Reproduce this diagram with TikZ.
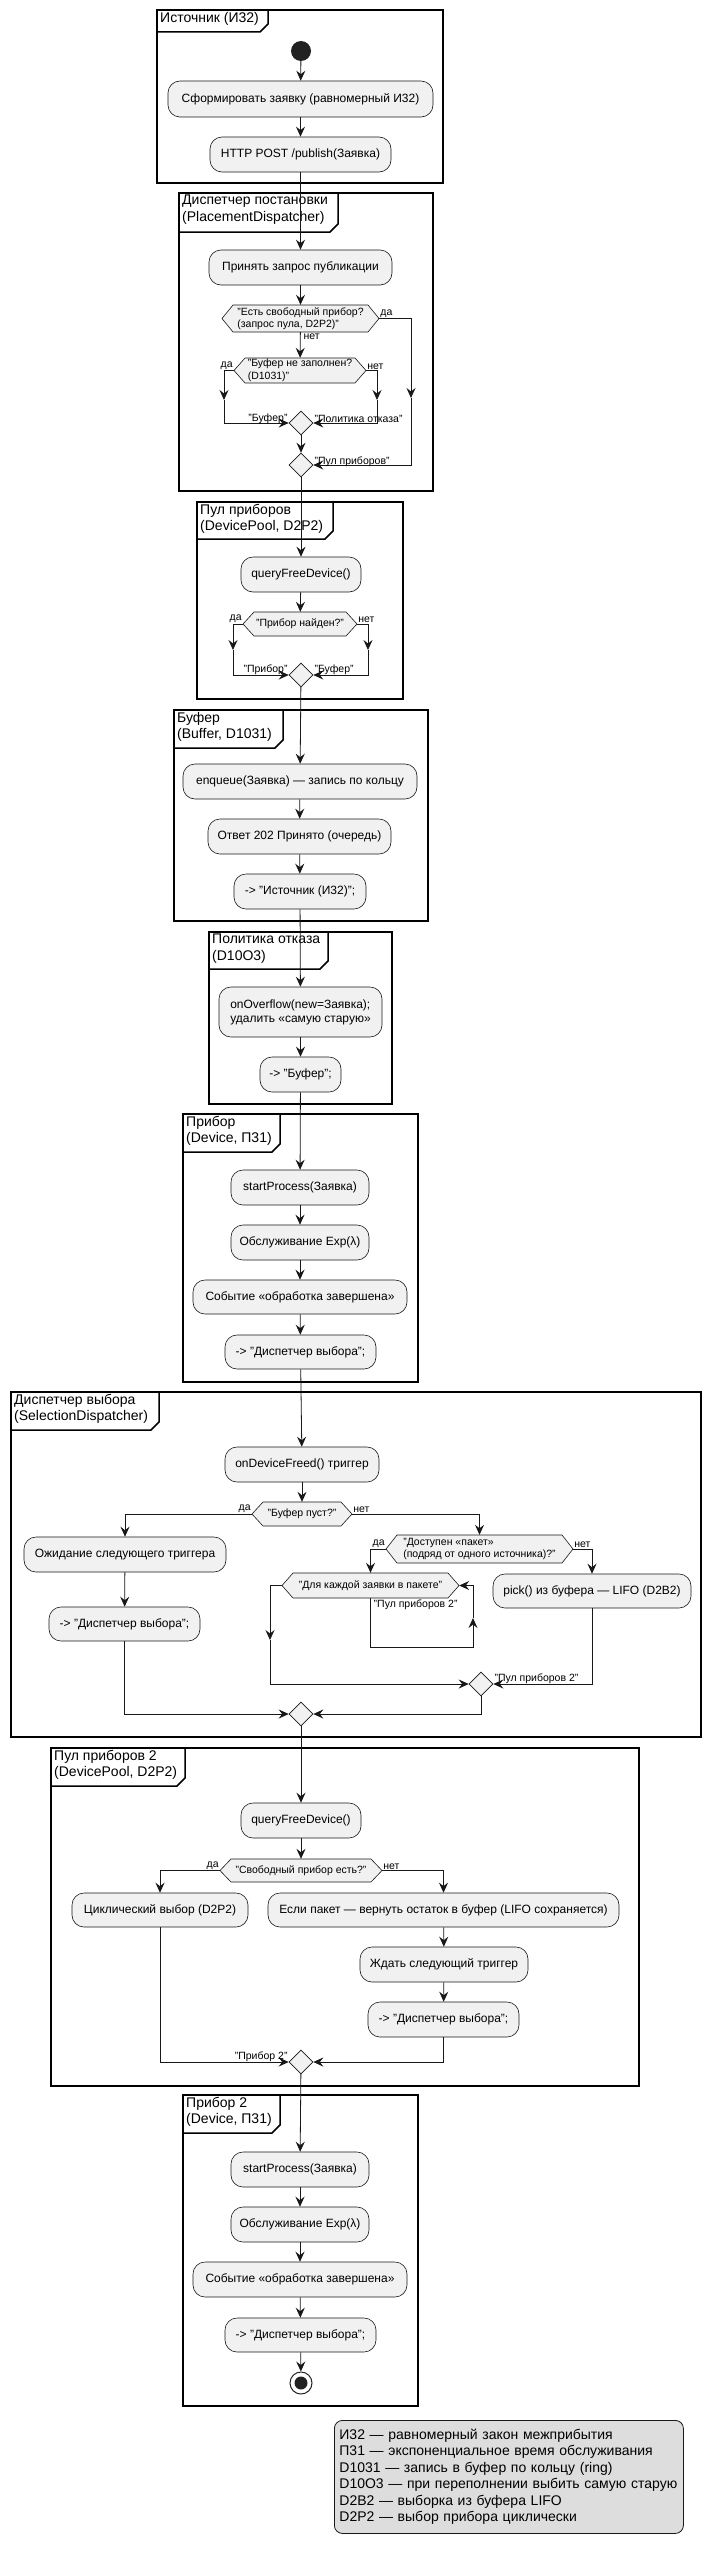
\documentclass[tikz,border=0pt]{standalone}
\usepackage{fontspec}
\setmainfont{Liberation Sans}
\usetikzlibrary{arrows.meta,shapes.geometric}
\definecolor{actfill}{HTML}{F1F1F1}
\definecolor{linec}{HTML}{181818}
\definecolor{startc}{HTML}{222222}
\definecolor{legfill}{HTML}{DDDDDD}
\tikzset{
  act/.style={draw=linec, fill=actfill, line width=0.6pt, rounded corners=12pt, inner sep=0pt, align=left, font=\fontsize{12}{14}\selectfont},
  hexst/.style={draw=linec, fill=actfill, line width=0.6pt},
  hexbox/.style={inner sep=0pt, align=left, font=\fontsize{10.5}{12.5}\selectfont},
  merge/.style={diamond, aspect=1, draw=linec, fill=actfill, line width=0.6pt, minimum width=24pt, minimum height=24pt, inner sep=0pt},
  frame/.style={draw=black, line width=1.5pt},
  ftitle/.style={inner sep=0pt, align=left, font=\fontsize{14}{16.5}\selectfont},
  lbl/.style={inner sep=1pt, font=\fontsize{10.5}{12.5}\selectfont},
  line/.style={draw=linec, line width=0.8pt},
  arr/.style={line, -{Stealth[length=10pt,width=9pt,inset=3.5pt]}},
  legend/.style={draw=linec, fill=legfill, line width=0.8pt, rounded corners=8pt, align=left, font=\fontsize{14}{16.5}\selectfont}
}
\newcommand\actn[6]{\node[act, minimum width={(#3-#2)*1pt}, minimum height={(#5-#4)*1pt}] (#1) at ({(#2+#3)/2},{(#4+#5)/2}) {#6};}
\newcommand\hexn[6]{%
  \path[hexst] (#2,{(#4+#5)/2}) -- ({#2+11},#4) -- ({#3-11},#4) -- (#3,{(#4+#5)/2}) -- ({#3-11},#5) -- ({#2+11},#5) -- cycle;
  \node[hexbox, minimum width={(#3-#2)*1pt}, minimum height={(#5-#4)*1pt}] (#1) at ({(#2+#3)/2},{(#4+#5)/2}) {#6};}
\newcommand\frm[8]{%
  \draw[frame] (#2,#3) rectangle (#4,#5);
  \draw[frame] (#2,#7) -- ({#6-8},#7) -- (#6,{#7-8}) -- (#6,#3);
  \node[ftitle, anchor=north west] (#1) at ({#2+3},{#3+2}) {#8};}
\begin{document}
\begin{tikzpicture}[x=1pt,y=-1pt]
\useasboundingbox (0,0) rectangle (708,2556);
\fill[white] (0,0) rectangle (708,2556);
% frames
\frm{fSrc}{157}{10}{443}{183}{268}{32}{Источник (И32)}
\frm{fPl}{179}{193}{433}{491}{338}{232}{Диспетчер постановки\\(PlacementDispatcher)}
\frm{fPool}{197}{502}{403}{699}{333}{539}{Пул приборов\\(DevicePool, D2P2)}
\frm{fBuf}{174}{710}{428}{921}{283}{748}{Буфер\\(Buffer, D1031)}
\frm{fPol}{209}{932}{392}{1104}{328}{969}{Политика отказа\\(D10O3)}
\frm{fDev}{183}{1114}{418}{1382}{280}{1152}{Прибор\\(Device, П31)}
\frm{fSel}{11}{1392}{701}{1737}{159}{1430}{Диспетчер выбора\\(SelectionDispatcher)}
\frm{fPool2}{51}{1748}{639}{2086}{185}{1786}{Пул приборов 2\\(DevicePool, D2P2)}
\frm{fDev2}{183}{2095}{418}{2406}{280}{2133}{Прибор 2\\(Device, П31)}
% source
\node[circle, fill=startc, minimum size=20pt, inner sep=0pt] (start) at (301,51) {};
\actn{a1}{168}{433}{81}{117}{Сформировать заявку (равномерный И32)}
\actn{a2}{210}{391}{137}{172}{HTTP POST /publish(Заявка)}
% placement
\actn{p1}{209}{392}{250}{285}{Принять запрос публикации}
\hexn{h1}{222}{379}{305}{332}{"Есть свободный прибор?\\(запрос пула, D2P2)"}
\hexn{h2}{234}{366}{358}{383}{"Буфер не заполнен?\\(D1031)"}
\node[merge] (m1) at (301,423) {};
\node[merge] (m2) at (301,465) {};
% pool
\actn{q1}{241}{361}{557}{592}{queryFreeDevice()}
\hexn{h3}{243}{357}{612}{636}{"Прибор найден?"}
\node[merge] (m3) at (301,675) {};
% buffer
\actn{b1}{183}{417}{764}{799}{enqueue(Заявка) — запись по кольцу}
\actn{b2}{208}{391}{819}{854}{Ответ 202 Принято (очередь)}
\actn{b3}{234}{366}{874}{909}{-> "Источник (И32)";}
% policy
\actn{o1}{219}{382}{987}{1037}{onOverflow(new=Заявка);\\удалить «самую старую»}
\actn{o2}{260}{341}{1057}{1092}{-> "Буфер";}
% device
\actn{d1}{231}{369}{1170}{1205}{startProcess(Заявка)}
\actn{d2}{231}{369}{1225}{1260}{Обслуживание Exp(λ)}
\actn{d3}{193}{407}{1280}{1314}{Событие «обработка завершена»}
\actn{d4}{225}{376}{1335}{1369}{-> "Диспетчер выбора";}
% selection
\actn{s1}{225}{379}{1447}{1482}{onDeviceFreed() триггер}
\hexn{h4}{252}{352}{1502}{1526}{"Буфер пуст?"}
\actn{s2}{24}{226}{1537}{1572}{Ожидание следующего триггера}
\actn{s3}{49}{200}{1607}{1641}{-> "Диспетчер выбора";}
\hexn{h5}{386}{573}{1535}{1563}{"Доступен «пакет»\\(подряд от одного источника)?"}
\hexn{h6}{282}{459}{1573}{1598}{"Для каждой заявки в пакете"}
\actn{s4}{493}{691}{1574}{1608}{pick() из буфера — LIFO (D2B2)}
\node[merge] (m4) at (481,1684) {};
\node[merge] (m5) at (301,1714) {};
% pool 2
\actn{q2}{241}{361}{1803}{1838}{queryFreeDevice()}
\hexn{h7}{220}{382}{1859}{1882}{"Свободный прибор есть?"}
\actn{c1}{72}{248}{1893}{1927}{Циклический выбор (D2P2)}
\actn{c2}{268}{619}{1893}{1927}{Если пакет — вернуть остаток в буфер (LIFO сохраняется)}
\actn{c3}{360}{528}{1947}{1982}{Ждать следующий триггер}
\actn{c4}{368}{519}{2002}{2037}{-> "Диспетчер выбора";}
\node[merge] (m6) at (301,2062) {};
% device 2
\actn{e1}{231}{369}{2152}{2187}{startProcess(Заявка)}
\actn{e2}{231}{369}{2207}{2242}{Обслуживание Exp(λ)}
\actn{e3}{193}{407}{2262}{2297}{Событие «обработка завершена»}
\actn{e4}{225}{376}{2318}{2352}{-> "Диспетчер выбора";}
\node[circle, draw=startc, line width=1pt, fill=white, minimum size=22pt, inner sep=0pt] (end) at (301,2383) {};
\node[circle, fill=startc, minimum size=13pt, inner sep=0pt] (endin) at (end) {};
% legend
\node[legend, anchor=north west, minimum width=349pt, minimum height=113pt, text width=339pt, inner sep=5pt] (lg) at (334,2420) {И32 — равномерный закон межприбытия\\П31 — экспоненциальное время обслуживания\\D1031 — запись в буфер по кольцу (ring)\\D10O3 — при переполнении выбить самую старую\\D2B2 — выборка из буфера LIFO\\D2P2 — выбор прибора циклически};
% connectors
\draw[arr] (start) -- (a1);
\draw[arr] (a1) -- (a2);
\draw[arr] (a2) -- (p1);
\draw[arr] (p1) -- (h1);
\draw[arr] (h1) -- (h2);
\coordinate (k1) at (224,400);
\coordinate (k2) at (377,400);
\coordinate (k3) at (411,398);
\draw[arr] (h2.west) -| (k1);
\draw[arr] (k1) |- (m1.west);
\draw[arr] (h2.east) -| (k2);
\draw[arr] (k2) |- (m1.east);
\draw[arr] (m1) -- (m2);
\draw[arr] (h1.east) -| (k3);
\draw[arr] (k3) |- (m2.east);
\draw[arr] (m2) -- (q1);
\draw[arr] (q1) -- (h3);
\coordinate (k4) at (233,650);
\coordinate (k5) at (368,650);
\draw[arr] (h3.west) -| (k4);
\draw[arr] (k4) |- (m3.west);
\draw[arr] (h3.east) -| (k5);
\draw[arr] (k5) |- (m3.east);
\draw[arr] (m3) -- (b1);
\draw[arr] (b1) -- (b2);
\draw[arr] (b2) -- (b3);
\draw[arr] (b3) -- (o1);
\draw[arr] (o1) -- (o2);
\draw[arr] (o2) -- (d1);
\draw[arr] (d1) -- (d2);
\draw[arr] (d2) -- (d3);
\draw[arr] (d3) -- (d4);
\draw[arr] (d4) -- (s1);
\draw[arr] (s1) -- (h4);
\draw[arr] (h4.west) -| (s2.north);
\draw[arr] (h4.east) -| (h5.north);
\draw[arr] (s2) -- (s3);
\draw[arr] (h5.west) -| (h6.north);
\draw[arr] (h5.east) -| (s4.north);
\coordinate (k6) at (473,1618);
\draw[arr] (h6.south) -- (370.5,1647) -- (473,1647) -- (k6);
\draw[arr] (k6) |- (h6.east);
\coordinate (k7) at (270,1640);
\draw[arr] (h6.west) -| (k7);
\draw[arr] (k7) |- (m4.west);
\draw[arr] (s4.south) |- (m4.east);
\draw[arr] (m4.south) |- (m5.east);
\draw[arr] (s3.south) |- (m5.west);
\draw[arr] (m5) -- (q2);
\draw[arr] (q2) -- (h7);
\draw[arr] (h7.west) -| (c1.north);
\draw[arr] (h7.east) -| (c2.north);
\draw[arr] (c2) -- (c3);
\draw[arr] (c3) -- (c4);
\draw[arr] (c1.south) |- (m6.west);
\draw[arr] (c4.south) |- (m6.east);
\draw[arr] (m6) -- (e1);
\draw[arr] (e1) -- (e2);
\draw[arr] (e2) -- (e3);
\draw[arr] (e3) -- (e4);
\draw[arr] (e4) -- (end);
% labels
\node[lbl, anchor=south west] (l1) at (h1.east) {да};
\node[lbl, anchor=north west, xshift=2pt] (l2) at (h1.south) {нет};
\node[lbl, anchor=south east] (l3) at (h2.west) {да};
\node[lbl, anchor=south west] (l4) at (h2.east) {нет};
\node[lbl, anchor=east, yshift=4pt] (l5) at (m1.west) {"Буфер"};
\node[lbl, anchor=west, yshift=4pt] (l6) at (m1.east) {"Политика отказа"};
\node[lbl, anchor=west, yshift=3pt] (l7) at (m2.east) {"Пул приборов"};
\node[lbl, anchor=south east] (l8) at (h3.west) {да};
\node[lbl, anchor=south west] (l9) at (h3.east) {нет};
\node[lbl, anchor=east, yshift=5pt] (l10) at (m3.west) {"Прибор"};
\node[lbl, anchor=west, yshift=5pt] (l11) at (m3.east) {"Буфер"};
\node[lbl, anchor=south east] (l12) at (h4.west) {да};
\node[lbl, anchor=south west] (l13) at (h4.east) {нет};
\node[lbl, anchor=south east] (l14) at (h5.west) {да};
\node[lbl, anchor=south west] (l15) at (h5.east) {нет};
\node[lbl, anchor=north west, xshift=2pt] (l16) at (h6.south) {"Пул приборов 2"};
\node[lbl, anchor=west, yshift=5pt] (l17) at (m4.east) {"Пул приборов 2"};
\node[lbl, anchor=south east] (l18) at (h7.west) {да};
\node[lbl, anchor=south west] (l19) at (h7.east) {нет};
\node[lbl, anchor=east, yshift=5pt] (l20) at (m6.west) {"Прибор 2"};
\end{tikzpicture}
\end{document}
